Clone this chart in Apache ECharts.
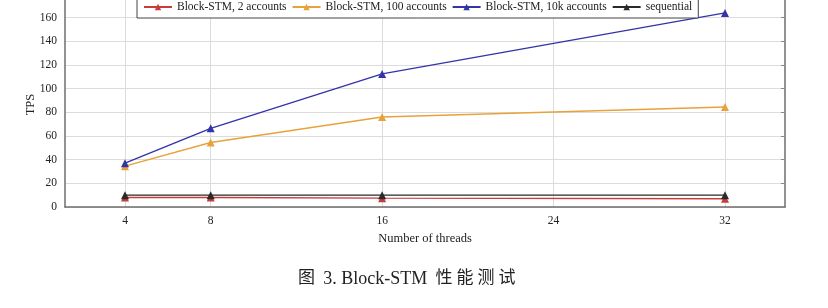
<!DOCTYPE html>
<html>
<head>
<meta charset="utf-8">
<script src="https://cdn.jsdelivr.net/npm/echarts@6/dist/echarts.min.js"></script>
<style>
  html, body { margin: 0; padding: 0; background: #fff; }
  #chart { width: 828px; height: 308px; }
</style>
</head>
<body>
<div id="chart"></div>
<script>
// Throughput (TPS) of Block-STM vs. number of threads
const threads = [4, 8, 16, 32];
const xTicks = [4, 8, 16, 24, 32];
const stm2 = [8, 8, 7.5, 7];
const stm100 = [34.5, 54.5, 76, 84.5];
const stm10k = [37, 66.5, 112.5, 164];
const sequential = [10, 10, 10, 10];

const seriesNames = ['Block-STM, 2 accounts', 'Block-STM, 100 accounts', 'Block-STM, 10k accounts', 'sequential'];
const seriesColors = ['#c83c3c', '#e8a23a', '#3434a8', '#2a2a2a'];
const seriesValues = [stm2, stm100, stm10k, sequential];

const serif = '"Liberation Serif", "DejaVu Serif", serif';
const cjkSerif = '"Liberation Serif", "Noto Sans CJK SC", serif';
const axisGray = '#6e6e6e';
const gridGray = '#dcdcdc';

const chart = echarts.init(document.getElementById('chart'));

const series = seriesNames.map((name, i) => ({
  name: name,
  type: 'line',
  data: threads.map((t, j) => [t, seriesValues[i][j]]),
  symbol: 'triangle',
  symbolSize: 8,
  showSymbol: true,
  lineStyle: { color: seriesColors[i], width: 1.4 },
  itemStyle: { color: seriesColors[i] },
  z: i === 3 ? 3 : 2
}));

chart.setOption({
  animation: false,
  backgroundColor: '#fff',
  textStyle: { fontFamily: serif },
  title: {
    text: '{a|图} {b|3. Block-STM} {c|性}{c|能}{c|测}{c|试}',
    left: 293,
    top: 265,
    textStyle: {
      fontFamily: cjkSerif,
      fontSize: 17,
      fontWeight: 'normal',
      color: '#222',
      rich: {
        a: { fontFamily: cjkSerif, fontSize: 17, color: '#222', padding: [0, 4, 0, 0] },
        b: { fontFamily: cjkSerif, fontSize: 18, color: '#222', padding: [0, 2, 0, 0] },
        c: { fontFamily: cjkSerif, fontSize: 17, color: '#222', padding: [0, 2, 0, 2] }
      }
    }
  },
  legend: {
    data: seriesNames,
    left: 137,
    top: -7,
    orient: 'horizontal',
    padding: [8, 6, 5, 6],
    itemGap: 5,
    itemWidth: 28,
    itemHeight: 8,
    borderColor: '#444',
    borderWidth: 1,
    backgroundColor: '#fff',
    textStyle: { fontFamily: serif, fontSize: 11.5, color: '#222' }
  },
  grid: { left: 65, right: 43, top: -6, bottom: 101, outerBoundsMode: 'none', containLabel: false },
  xAxis: {
    type: 'value',
    min: 1.2,
    max: 34.8,
    name: 'Number of threads',
    nameLocation: 'middle',
    nameGap: 20,
    nameTextStyle: { fontFamily: serif, fontSize: 12.5, color: '#222' },
    axisLine: { show: true, lineStyle: { color: axisGray, width: 1.5 } },
    axisTick: { show: false, customValues: xTicks },
    axisLabel: { customValues: xTicks, fontFamily: serif, fontSize: 11.5, color: '#222', margin: 8 },
    splitLine: { show: true, lineStyle: { color: gridGray, width: 1 } }
  },
  yAxis: [{
    type: 'value',
    min: 0,
    max: 180,
    interval: 20,
    name: 'TPS',
    nameLocation: 'middle',
    nameRotate: 90,
    nameGap: 28,
    nameMoveOverlap: false,
    nameTextStyle: { fontFamily: serif, fontSize: 12.5, color: '#222', padding: [0, 8, 0, 0] },
    axisLine: { show: true, lineStyle: { color: axisGray, width: 1.5 } },
    axisTick: { show: false },
    axisLabel: { fontFamily: serif, fontSize: 11.5, color: '#222', margin: 8 },
    splitLine: { show: true, lineStyle: { color: gridGray, width: 1 } }
  }, {
    type: 'value',
    position: 'right',
    min: 0,
    max: 180,
    interval: 20,
    axisLine: { show: true, lineStyle: { color: axisGray, width: 1.5 } },
    axisTick: { show: true, inside: true, length: 4, lineStyle: { color: '#888' } },
    axisLabel: { show: false },
    splitLine: { show: false }
  }],
  series: series
});
</script>
</body>
</html>
